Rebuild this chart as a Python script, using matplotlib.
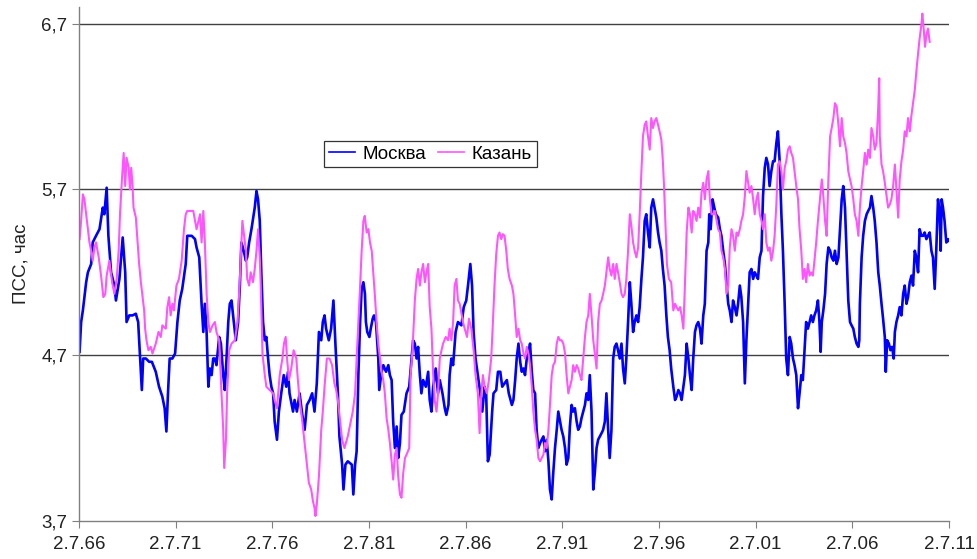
import matplotlib
matplotlib.use('Agg')
import matplotlib.pyplot as plt

plt.rcParams['font.family'] = ['Liberation Sans', 'DejaVu Sans']

# time axis in decimal years, values in hours
moscow_year = [
    1966.53, 1966.61, 1966.70, 1966.87, 1966.96, 1967.13, 1967.21, 1967.38, 1967.56, 1967.73,
    1967.81, 1967.93, 1968.02, 1968.16, 1968.33, 1968.41, 1968.59, 1968.76, 1968.89, 1968.96,
    1969.10, 1969.27, 1969.44, 1969.56, 1969.61, 1969.75, 1969.82, 1969.96, 1970.13, 1970.27,
    1970.47, 1970.64, 1970.81, 1970.93, 1971.02, 1971.11, 1971.19, 1971.33, 1971.47, 1971.59,
    1971.71, 1971.84, 1972.02, 1972.10,
    1972.33, 1972.50, 1972.58, 1972.72, 1972.84, 1972.93, 1973.01, 1973.10, 1973.19, 1973.27,
    1973.36, 1973.44, 1973.53, 1973.61, 1973.75, 1973.84, 1973.96, 1974.04, 1974.13, 1974.22,
    1974.30, 1974.39, 1974.47, 1974.61, 1974.73, 1974.82, 1974.90, 1975.02, 1975.13, 1975.20,
    1975.30, 1975.42, 1975.59, 1975.68, 1975.76, 1975.85, 1975.93, 1976.02, 1976.11, 1976.19,
    1976.28, 1976.36, 1976.45, 1976.54, 1976.62, 1976.74, 1976.84, 1976.96, 1977.09, 1977.22,
    1977.31, 1977.39, 1977.57, 1977.65, 1977.77, 1977.91, 1978.05, 1978.17, 1978.29, 1978.43,
    1978.56, 1978.68, 1978.80, 1978.91, 1979.03, 1979.11, 1979.20, 1979.28, 1979.42, 1979.54,
    1979.66, 1979.77, 1979.89, 1979.97, 1980.11, 1980.18, 1980.28, 1980.40,
    1980.61, 1980.69, 1980.78, 1980.86, 1980.95, 1981.04, 1981.12, 1981.21, 1981.29, 1981.34,
    1981.41, 1981.52, 1981.59, 1981.69, 1981.76, 1981.86, 1981.98, 1982.03, 1982.15, 1982.24,
    1982.38, 1982.50, 1982.58, 1982.67, 1982.75, 1982.84, 1982.93, 1983.01, 1983.10, 1983.18,
    1983.30, 1983.44, 1983.58, 1983.70, 1983.78, 1983.87, 1983.96, 1984.04, 1984.13, 1984.21,
    1984.30, 1984.44, 1984.56, 1984.64, 1984.73, 1984.82, 1984.95, 1985.07, 1985.16, 1985.30,
    1985.42, 1985.50, 1985.61, 1985.67, 1985.76, 1985.85, 1985.98, 1986.10, 1986.28, 1986.40,
    1986.53, 1986.62, 1986.74, 1986.83, 1986.91, 1987.01, 1987.13, 1987.26, 1987.36, 1987.48,
    1987.56, 1987.65, 1987.74, 1987.87, 1987.94, 1988.08, 1988.17, 1988.29, 1988.39, 1988.51,
    1988.63, 1988.73,
    1988.89, 1988.97, 1989.06, 1989.14, 1989.23, 1989.32, 1989.40, 1989.49, 1989.57, 1989.66,
    1989.75, 1989.83, 1989.92, 1990.00, 1990.09, 1990.17, 1990.26, 1990.35, 1990.43, 1990.52,
    1990.60, 1990.69, 1990.78, 1990.86, 1990.95, 1991.03, 1991.12, 1991.21, 1991.29, 1991.38,
    1991.46, 1991.55, 1991.64, 1991.72, 1991.81, 1991.89, 1991.98, 1992.06, 1992.15, 1992.24,
    1992.32, 1992.41, 1992.49, 1992.58, 1992.67, 1992.75, 1992.84, 1992.92, 1993.01, 1993.10,
    1993.18, 1993.27, 1993.35, 1993.44, 1993.53, 1993.61, 1993.70, 1993.78, 1993.87, 1993.95,
    1994.04, 1994.13, 1994.21, 1994.30, 1994.38, 1994.47, 1994.56, 1994.64, 1994.73, 1994.81,
    1994.90, 1994.99, 1995.07, 1995.16, 1995.24, 1995.33, 1995.42, 1995.50, 1995.59, 1995.67,
    1995.76, 1995.84, 1995.93, 1996.02, 1996.10, 1996.19, 1996.27, 1996.36, 1996.45, 1996.53,
    1996.62, 1996.70, 1996.79, 1996.88, 1996.96, 1997.05, 1997.13,
    1997.24, 1997.33, 1997.41, 1997.50, 1997.59, 1997.67, 1997.76, 1997.84, 1997.93, 1998.02,
    1998.10, 1998.19, 1998.27, 1998.36, 1998.44, 1998.53, 1998.62, 1998.70, 1998.79, 1998.87,
    1998.96, 1999.05, 1999.10, 1999.17, 1999.27, 1999.36, 1999.44, 1999.56, 1999.65, 1999.73,
    1999.82, 1999.91, 1999.99, 2000.08, 2000.16, 2000.25, 2000.33, 2000.42, 2000.51, 2000.59,
    2000.68, 2000.76, 2000.85, 2000.94, 2001.02, 2001.11, 2001.19, 2001.28, 2001.37, 2001.45,
    2001.54, 2001.62, 2001.71, 2001.80, 2001.88, 2001.97, 2002.05, 2002.14, 2002.22, 2002.31,
    2002.40, 2002.48, 2002.57, 2002.65, 2002.74, 2002.83, 2002.91, 2003.00, 2003.08, 2003.17,
    2003.26, 2003.34, 2003.43, 2003.51, 2003.60, 2003.69, 2003.77, 2003.86, 2003.94, 2004.03,
    2004.11, 2004.20, 2004.29, 2004.37, 2004.46, 2004.54, 2004.63, 2004.72, 2004.80, 2004.86,
    2004.92,
    2005.00, 2005.09, 2005.17, 2005.26, 2005.35, 2005.43, 2005.52, 2005.60, 2005.69, 2005.78,
    2005.86, 2005.95, 2006.03, 2006.12, 2006.20, 2006.29, 2006.38, 2006.46, 2006.55, 2006.63,
    2006.72, 2006.81, 2006.86, 2006.89, 2006.98, 2007.06, 2007.15, 2007.24, 2007.32, 2007.41,
    2007.49, 2007.58, 2007.66, 2007.75, 2007.84, 2007.92, 2008.01, 2008.09, 2008.18, 2008.23,
    2008.30, 2008.39, 2008.47, 2008.56, 2008.64, 2008.70, 2008.78, 2008.87, 2008.95, 2009.04,
    2009.13, 2009.21, 2009.30, 2009.38, 2009.47, 2009.56, 2009.64, 2009.73, 2009.81, 2009.90,
    2009.98, 2010.07, 2010.16, 2010.24, 2010.33, 2010.41, 2010.50, 2010.59, 2010.67, 2010.76,
    2010.84, 2010.93, 2011.02, 2011.07, 2011.12, 2011.19, 2011.27, 2011.36, 2011.45, 2011.50,
]
moscow_val = [
    4.72, 4.90, 4.97, 5.14, 5.20, 5.25, 5.38, 5.42, 5.46, 5.59,
    5.55, 5.71, 5.42, 5.20, 5.12, 5.03, 5.16, 5.41, 5.20, 4.90,
    4.94, 4.94, 4.95, 4.90, 4.79, 4.49, 4.68, 4.68, 4.66, 4.66,
    4.60, 4.51, 4.45, 4.38, 4.24, 4.49, 4.68, 4.68, 4.71, 4.90,
    5.03, 5.10, 5.25, 5.42,
    5.42, 5.40, 5.35, 5.29, 5.01, 4.84, 5.01, 4.84, 4.51, 4.62,
    4.58, 4.68, 4.68, 4.64, 4.81, 4.77, 4.58, 4.49, 4.68, 4.90,
    5.01, 5.03, 4.94, 4.79, 4.90, 5.12, 5.38, 5.33, 5.27, 5.29,
    5.38, 5.46, 5.59, 5.69, 5.64, 5.51, 5.20, 4.90, 4.79, 4.81,
    4.68, 4.58, 4.51, 4.47, 4.30, 4.19, 4.36, 4.47, 4.58, 4.51,
    4.60, 4.47, 4.36, 4.43, 4.36, 4.47, 4.34, 4.25, 4.40, 4.43,
    4.47, 4.36, 4.53, 4.84, 4.79, 4.90, 4.94, 4.86, 4.79, 4.86,
    5.03, 4.75, 4.47, 4.21, 4.04, 3.89, 4.04, 4.06,
    4.04, 3.86, 4.04, 4.12, 4.58, 4.90, 5.10, 5.14, 5.07, 4.90,
    4.84, 4.81, 4.86, 4.92, 4.94, 4.90, 4.68, 4.49, 4.60, 4.64,
    4.60, 4.64, 4.58, 4.55, 4.30, 4.14, 4.27, 4.08, 4.17, 4.34,
    4.36, 4.47, 4.51, 4.68, 4.79, 4.77, 4.68, 4.75, 4.58, 4.47,
    4.55, 4.51, 4.60, 4.43, 4.36, 4.51, 4.62, 4.47, 4.55, 4.47,
    4.38, 4.34, 4.40, 4.58, 4.68, 4.64, 4.84, 4.90, 4.88, 4.99,
    5.03, 5.12, 5.25, 5.12, 4.84, 4.68, 4.58, 4.47, 4.36, 4.51,
    4.47, 4.06, 4.10, 4.36, 4.47, 4.49, 4.60, 4.60, 4.51, 4.53,
    4.55, 4.47,
    4.40, 4.43, 4.55, 4.68, 4.77, 4.66, 4.60, 4.62, 4.58, 4.68,
    4.71, 4.77, 4.60, 4.49, 4.47, 4.25, 4.14, 4.17, 4.19, 4.21,
    4.12, 4.19, 4.06, 3.89, 3.83, 3.99, 4.14, 4.25, 4.36, 4.30,
    4.25, 4.21, 4.14, 4.04, 4.08, 4.27, 4.40, 4.36, 4.38, 4.30,
    4.25, 4.27, 4.32, 4.36, 4.40, 4.47, 4.43, 4.58, 4.36, 3.89,
    3.99, 4.14, 4.19, 4.21, 4.23, 4.25, 4.30, 4.47, 4.25, 4.08,
    4.25, 4.68, 4.75, 4.77, 4.73, 4.68, 4.77, 4.62, 4.53, 4.68,
    4.90, 5.14, 5.01, 4.84, 4.90, 4.94, 4.90, 4.99, 5.16, 5.29,
    5.51, 5.55, 5.44, 5.35, 5.59, 5.64, 5.59, 5.53, 5.44, 5.38,
    5.33, 5.22, 5.12, 4.94, 4.81, 4.73, 4.62,
    4.51, 4.43, 4.45, 4.49, 4.47, 4.43, 4.51, 4.58, 4.77, 4.68,
    4.58, 4.49, 4.68, 4.84, 4.88, 4.90, 4.86, 4.77, 4.94, 5.01,
    5.33, 5.38, 5.55, 5.46, 5.64, 5.59, 5.55, 5.53, 5.46, 5.42,
    5.33, 5.25, 5.14, 5.01, 4.97, 4.90, 5.03, 4.99, 4.94, 5.01,
    5.12, 5.05, 4.90, 4.53, 4.79, 5.01, 5.20, 5.22, 5.16, 5.20,
    5.18, 5.16, 5.29, 5.33, 5.66, 5.83, 5.89, 5.85, 5.72, 5.81,
    5.87, 5.87, 5.98, 6.05, 5.87, 5.55, 5.33, 5.01, 4.68, 4.58,
    4.81, 4.77, 4.68, 4.64, 4.58, 4.38, 4.47, 4.58, 4.55, 4.73,
    4.90, 4.86, 4.90, 4.94, 4.90, 4.94, 4.97, 5.03, 4.90, 4.72,
    4.90,
    4.97, 5.07, 5.25, 5.35, 5.33, 5.29, 5.27, 5.33, 5.25, 5.29,
    5.46, 5.64, 5.72, 5.59, 5.33, 5.03, 4.90, 4.88, 4.86, 4.81,
    4.77, 4.75, 4.79, 5.01, 5.29, 5.42, 5.51, 5.55, 5.57, 5.59,
    5.66, 5.59, 5.51, 5.38, 5.20, 5.12, 5.01, 4.92, 4.81, 4.60,
    4.79, 4.77, 4.73, 4.75, 4.68, 4.84, 4.90, 4.94, 4.99, 4.94,
    5.07, 5.12, 5.01, 5.05, 5.14, 5.18, 5.12, 5.33, 5.29, 5.20,
    5.46, 5.42, 5.42, 5.44, 5.40, 5.42, 5.44, 5.33, 5.29, 5.10,
    5.33, 5.64, 5.55, 5.33, 5.64, 5.59, 5.51, 5.38, 5.40, 5.39,
]

kazan_year = [
    1966.53, 1966.61, 1966.70, 1966.78, 1966.87, 1966.96, 1967.04, 1967.13, 1967.21, 1967.30,
    1967.38, 1967.52, 1967.64, 1967.76, 1967.86, 1967.93, 1968.07, 1968.21, 1968.33, 1968.45,
    1968.55, 1968.62, 1968.72, 1968.81, 1968.89, 1968.96, 1969.07, 1969.13, 1969.20, 1969.27,
    1969.32, 1969.44, 1969.53, 1969.61, 1969.70, 1969.79, 1969.87, 1969.92, 1969.99, 1970.09,
    1970.21, 1970.30, 1970.47, 1970.61, 1970.73, 1970.81, 1970.99, 1971.07, 1971.16, 1971.24,
    1971.33, 1971.41, 1971.54, 1971.67, 1971.81, 1971.93, 1972.02, 1972.10,
    1972.41, 1972.58, 1972.76, 1972.84, 1972.93, 1973.01, 1973.10, 1973.19, 1973.27, 1973.41,
    1973.53, 1973.61, 1973.75, 1973.87, 1973.96, 1974.01, 1974.10, 1974.16, 1974.27, 1974.39,
    1974.56, 1974.70, 1974.82, 1974.95, 1975.02, 1975.13, 1975.20, 1975.30, 1975.38, 1975.50,
    1975.59, 1975.68, 1975.76, 1975.85, 1975.90, 1975.99, 1976.11, 1976.19, 1976.36, 1976.54,
    1976.62, 1976.74, 1976.88, 1977.02, 1977.10, 1977.19, 1977.26, 1977.36, 1977.48, 1977.60,
    1977.74, 1977.82, 1977.91, 1978.05, 1978.17, 1978.29, 1978.39, 1978.51, 1978.60, 1978.68,
    1978.73, 1978.80, 1978.91, 1979.03, 1979.11, 1979.20, 1979.32, 1979.46, 1979.59, 1979.71,
    1979.80, 1979.89, 1979.97, 1980.11, 1980.23, 1980.40,
    1980.66, 1980.78, 1980.86, 1980.95, 1981.04, 1981.12, 1981.21, 1981.28, 1981.38, 1981.47,
    1981.55, 1981.64, 1981.72, 1981.81, 1981.89, 1981.98, 1982.07, 1982.15, 1982.24, 1982.32,
    1982.41, 1982.50, 1982.58, 1982.67, 1982.75, 1982.84, 1982.93, 1983.01, 1983.10, 1983.18,
    1983.27, 1983.36, 1983.44, 1983.58, 1983.65, 1983.75, 1983.82, 1983.87, 1983.96, 1984.04,
    1984.13, 1984.21, 1984.30, 1984.39, 1984.47, 1984.56, 1984.64, 1984.73, 1984.82, 1984.90,
    1984.99, 1985.07, 1985.16, 1985.25, 1985.33, 1985.47, 1985.59, 1985.67, 1985.76, 1985.85,
    1985.93, 1986.02, 1986.10, 1986.19, 1986.36, 1986.45, 1986.57, 1986.67, 1986.79, 1986.91,
    1987.01, 1987.13, 1987.22, 1987.31, 1987.39, 1987.48, 1987.60, 1987.70, 1987.82, 1987.91,
    1987.99, 1988.08, 1988.17, 1988.25, 1988.34, 1988.42, 1988.51, 1988.60, 1988.68, 1988.77,
    1988.89, 1988.97, 1989.06, 1989.14, 1989.23, 1989.32, 1989.40, 1989.49, 1989.57, 1989.66,
    1989.75, 1989.83, 1989.92, 1990.00, 1990.09, 1990.17, 1990.26, 1990.35, 1990.43, 1990.52,
    1990.60, 1990.69, 1990.78, 1990.86, 1990.95, 1991.03, 1991.12, 1991.21, 1991.29, 1991.38,
    1991.46, 1991.55, 1991.64, 1991.72, 1991.81, 1991.89, 1991.98, 1992.06, 1992.15, 1992.24,
    1992.32, 1992.41, 1992.49, 1992.58, 1992.67, 1992.75, 1992.84, 1992.92, 1993.01, 1993.10,
    1993.18, 1993.27, 1993.35, 1993.44, 1993.53, 1993.61, 1993.70, 1993.78, 1993.87, 1993.95,
    1994.04, 1994.13, 1994.21, 1994.30, 1994.38, 1994.47, 1994.56, 1994.64, 1994.73, 1994.81,
    1994.90, 1994.99, 1995.07, 1995.16, 1995.24, 1995.33, 1995.42, 1995.50, 1995.59, 1995.67,
    1995.76, 1995.84, 1995.93, 1996.02, 1996.10, 1996.19, 1996.27, 1996.36, 1996.45, 1996.53,
    1996.62, 1996.70, 1996.76, 1996.84, 1996.91, 1997.01, 1997.13,
    1997.24, 1997.33, 1997.41, 1997.50, 1997.59, 1997.67, 1997.76, 1997.84, 1997.93, 1998.02,
    1998.10, 1998.19, 1998.27, 1998.36, 1998.44, 1998.53, 1998.62, 1998.70, 1998.79, 1998.87,
    1998.96, 1999.05, 1999.13, 1999.22, 1999.30, 1999.39, 1999.48, 1999.56, 1999.65, 1999.73,
    1999.82, 1999.91, 1999.99, 2000.08, 2000.16, 2000.25, 2000.33, 2000.42, 2000.51, 2000.59,
    2000.68, 2000.76, 2000.85, 2000.94, 2001.02, 2001.11, 2001.19, 2001.28, 2001.37, 2001.45,
    2001.54, 2001.62, 2001.71, 2001.80, 2001.88, 2001.97, 2002.05, 2002.14, 2002.22, 2002.31,
    2002.40, 2002.48, 2002.57, 2002.65, 2002.74, 2002.83, 2002.91, 2003.00, 2003.08, 2003.17,
    2003.26, 2003.34, 2003.43, 2003.51, 2003.60, 2003.69, 2003.77, 2003.86, 2003.94, 2004.03,
    2004.11, 2004.20, 2004.29, 2004.37, 2004.46, 2004.54, 2004.63, 2004.72, 2004.80,
    2004.92, 2005.00, 2005.09, 2005.17, 2005.26, 2005.35, 2005.43, 2005.52, 2005.60, 2005.69,
    2005.78, 2005.86, 2005.95, 2006.03, 2006.12, 2006.20, 2006.29, 2006.38, 2006.46, 2006.55,
    2006.63, 2006.72, 2006.81, 2006.89, 2006.98, 2007.06, 2007.15, 2007.24, 2007.32, 2007.41,
    2007.49, 2007.58, 2007.66, 2007.75, 2007.84, 2007.89, 2007.92, 2008.01, 2008.09, 2008.18,
    2008.27, 2008.35, 2008.44, 2008.52, 2008.61, 2008.70, 2008.78, 2008.87, 2008.95, 2009.04,
    2009.13, 2009.21, 2009.30, 2009.38, 2009.47, 2009.56, 2009.64, 2009.73, 2009.81, 2009.90,
    2009.98, 2010.07, 2010.12, 2010.19, 2010.26, 2010.33, 2010.41, 2010.50,
]
kazan_val = [
    5.40, 5.51, 5.67, 5.64, 5.55, 5.46, 5.38, 5.33, 5.27, 5.35,
    5.38, 5.29, 5.18, 5.05, 5.07, 5.18, 5.27, 5.14, 5.07, 5.16,
    5.33, 5.55, 5.76, 5.92, 5.72, 5.89, 5.83, 5.70, 5.83, 5.72,
    5.59, 5.53, 5.38, 5.25, 5.14, 5.05, 4.97, 4.86, 4.79, 4.73,
    4.75, 4.71, 4.77, 4.84, 4.81, 4.88, 4.86, 4.99, 5.05, 4.94,
    5.01, 4.97, 5.12, 5.16, 5.27, 5.46, 5.55, 5.57,
    5.57, 5.46, 5.55, 5.38, 5.57, 5.38, 5.07, 4.90, 4.84, 4.88,
    4.90, 4.84, 4.79, 4.47, 4.25, 4.02, 4.19, 4.47, 4.73, 4.77,
    4.79, 4.90, 5.16, 5.51, 5.44, 5.33, 5.16, 5.12, 5.20, 5.14,
    5.22, 5.33, 5.46, 5.29, 5.12, 4.71, 4.58, 4.51, 4.49, 4.47,
    4.43, 4.38, 4.58, 4.68, 4.77, 4.81, 4.68, 4.55, 4.62, 4.73,
    4.68, 4.55, 4.43, 4.30, 4.17, 4.04, 3.93, 3.89, 3.82, 3.78,
    3.73, 3.80, 3.97, 4.25, 4.36, 4.51, 4.68, 4.68, 4.64, 4.53,
    4.49, 4.43, 4.34, 4.19, 4.14, 4.21,
    4.36, 4.47, 4.68, 4.90, 5.12, 5.33, 5.51, 5.54, 5.44, 5.46,
    5.38, 5.33, 5.20, 5.05, 4.90, 4.77, 4.68, 4.60, 4.55, 4.47,
    4.32, 4.25, 4.17, 4.06, 3.95, 4.10, 4.14, 3.97, 3.86, 3.84,
    3.99, 4.08, 4.10, 4.14, 4.58, 4.73, 4.90, 5.03, 5.16, 5.22,
    5.12, 5.20, 5.25, 5.14, 5.20, 5.25, 4.99, 4.86, 4.58, 4.43,
    4.36, 4.47, 4.68, 4.73, 4.77, 4.81, 4.79, 4.86, 4.79, 4.90,
    5.12, 5.16, 5.03, 5.01, 4.90, 4.86, 4.81, 4.92, 4.86, 4.73,
    4.58, 4.47, 4.23, 4.47, 4.58, 4.51, 4.47, 4.55, 4.68, 4.90,
    5.12, 5.31, 5.42, 5.44, 5.40, 5.43, 5.42, 5.33, 5.22, 5.16,
    5.12, 5.07, 4.94, 4.81, 4.86, 4.79, 4.77, 4.71, 4.68, 4.75,
    4.71, 4.64, 4.51, 4.36, 4.25, 4.19, 4.08, 4.06, 4.08, 4.10,
    4.17, 4.14, 4.25, 4.40, 4.58, 4.64, 4.66, 4.77, 4.81, 4.79,
    4.79, 4.77, 4.71, 4.58, 4.47, 4.51, 4.55, 4.64, 4.60, 4.64,
    4.62, 4.58, 4.55, 4.68, 4.81, 4.90, 4.94, 5.07, 4.94, 4.79,
    4.71, 4.62, 4.90, 5.01, 5.03, 5.07, 5.12, 5.20, 5.29, 5.22,
    5.18, 5.25, 5.16, 5.25, 5.20, 5.14, 5.07, 5.05, 5.07, 5.16,
    5.33, 5.55, 5.48, 5.38, 5.33, 5.29, 5.35, 5.55, 5.81, 6.02,
    6.09, 6.11, 6.02, 5.94, 6.13, 6.07, 6.11, 6.13, 6.09, 6.05,
    6.00, 5.87, 5.72, 5.46, 5.25, 5.16, 5.14,
    4.97, 5.01, 4.99, 4.97, 4.99, 4.94, 4.86, 5.12, 5.44, 5.59,
    5.55, 5.44, 5.57, 5.55, 5.51, 5.59, 5.53, 5.68, 5.74, 5.64,
    5.76, 5.81, 5.64, 5.55, 5.55, 5.57, 5.51, 5.46, 5.44, 5.33,
    5.29, 5.22, 5.07, 5.12, 5.35, 5.46, 5.42, 5.33, 5.44, 5.42,
    5.46, 5.51, 5.55, 5.66, 5.81, 5.74, 5.68, 5.72, 5.64, 5.55,
    5.64, 5.68, 5.55, 5.51, 5.46, 5.55, 5.38, 5.33, 5.35, 5.27,
    5.33, 5.42, 5.61, 5.85, 5.87, 5.81, 5.70, 5.83, 5.87, 5.94,
    5.96, 5.92, 5.89, 5.81, 5.72, 5.64, 5.46, 5.33, 5.16, 5.22,
    5.14, 5.25, 5.18, 5.20, 5.18, 5.27, 5.38, 5.51, 5.61,
    5.76, 5.66, 5.51, 5.42, 5.76, 6.02, 6.07, 6.13, 6.22, 6.20,
    6.09, 5.96, 6.13, 6.02, 5.98, 5.92, 5.81, 5.76, 5.72, 5.64,
    5.55, 5.51, 5.42, 5.59, 5.72, 5.81, 5.92, 5.85, 5.94, 5.89,
    6.07, 6.02, 5.94, 5.98, 6.20, 6.37, 6.02, 5.85, 5.81, 5.74,
    5.66, 5.59, 5.61, 5.64, 5.72, 5.85, 5.70, 5.53, 5.76, 5.87,
    5.94, 6.05, 6.02, 6.13, 6.05, 6.15, 6.22, 6.30, 6.41, 6.52,
    6.61, 6.69, 6.76, 6.67, 6.56, 6.63, 6.67, 6.59,
]

tick_years = [1966.5, 1971.5, 1976.5, 1981.5, 1986.5, 1991.5, 1996.5, 2001.5, 2006.5, 2011.5]
tick_labels = ['2.7.66', '2.7.71', '2.7.76', '2.7.81', '2.7.86',
               '2.7.91', '2.7.96', '2.7.01', '2.7.06', '2.7.11']
y_ticks = [3.7, 4.7, 5.7, 6.7]
y_labels = ['3,7', '4,7', '5,7', '6,7']

fig = plt.figure(figsize=(9.77, 5.59), dpi=100)
ax = fig.add_axes([79 / 977, 1 - 521 / 559, 870 / 977, 514 / 559])

ax.plot(moscow_year, moscow_val, color='#0000ff', lw=1.9, label='Москва')
ax.plot(kazan_year, kazan_val, color='#ff55ff', lw=1.5, label='Казань')

ax.set_xlim(1966.5, 2011.5)
ax.set_ylim(3.7, 6.8)
ax.set_xticks(tick_years)
ax.set_xticklabels(tick_labels)
ax.set_yticks(y_ticks)
ax.set_yticklabels(y_labels)

# horizontal grid lines (3.7 is the axis itself)
for v in y_ticks[1:]:
    ax.axhline(v, color='#404040', lw=1.0, zorder=0)

for s in ['top', 'right']:
    ax.spines[s].set_visible(False)
for s in ['left', 'bottom']:
    ax.spines[s].set_color('#808080')
    ax.spines[s].set_linewidth(1.0)

ax.tick_params(axis='both', direction='out', length=5, color='#808080',
               labelsize=13.5, labelcolor='#222222')
ax.tick_params(axis='x', pad=6)
ax.set_ylabel('ПСС, час', fontsize=13.5, color='#222222', labelpad=8)

# legend box sits inside the plot, above the 5.7 line
legend_lines = [ax.lines[0], ax.lines[1]]
leg = fig.legend(legend_lines, ['Москва', 'Казань'], loc='center',
                 bbox_to_anchor=(430.5 / 977, 1 - 154 / 559), ncol=2,
                 fontsize=13.5, frameon=True, fancybox=False, handlelength=1.4,
                 handletextpad=0.4, columnspacing=0.6, borderpad=0.25)
leg.get_frame().set_edgecolor('black')
leg.get_frame().set_linewidth(0.9)
for line in leg.get_lines():
    line.set_linewidth(1.2)

fig.savefig('out.png', dpi=100)
